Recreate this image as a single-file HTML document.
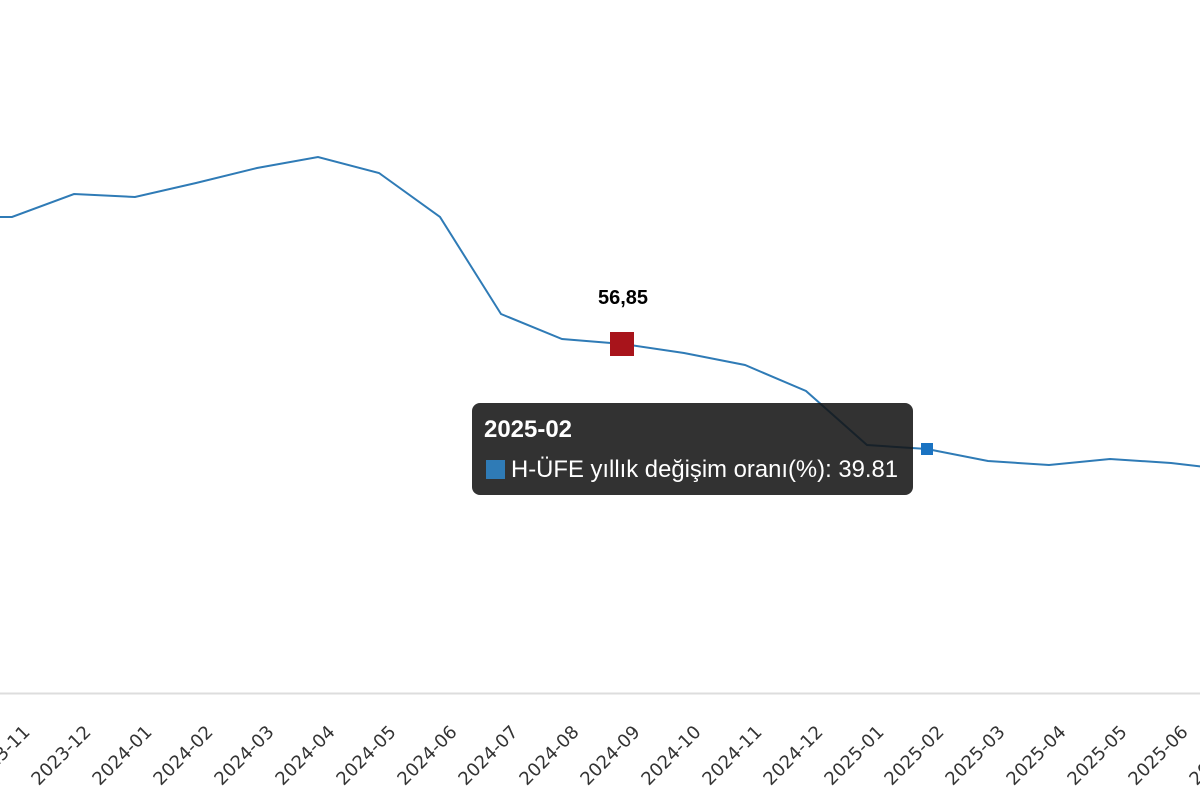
<!DOCTYPE html>
<html><head><meta charset="utf-8"><style>
html,body{margin:0;padding:0;background:#fff;width:1200px;height:800px;overflow:hidden}
svg{display:block}
</style></head><body>
<svg width="1200" height="800" xmlns="http://www.w3.org/2000/svg">
<line x1="0" y1="693.5" x2="1200" y2="693.5" stroke="#dddddd" stroke-width="2"/>
<polyline fill="none" stroke="#2f7bb6" stroke-width="2" points="-49,217 12,217 74,194 135,197 196,183 257,168 318,157 379,173 440,217 501,314 562,339 623,344 684,353 745,365 806,391 867,445 927,449 988,461 1049,465 1110,459 1171,463 1232,470"/>
<rect x="610" y="332" width="24" height="24" fill="#a8141b"/>
<text x="623" y="304" text-anchor="middle" font-family="Liberation Sans, sans-serif" font-weight="bold" font-size="20" fill="#000">56,85</text>
<rect x="921" y="443" width="12" height="12" fill="#1a73c2"/>
<g font-family="DejaVu Sans, sans-serif" font-size="18" fill="#333" text-anchor="end">
<text transform="translate(31,733) rotate(-45)">2023-11</text>
<text transform="translate(92,733) rotate(-45)">2023-12</text>
<text transform="translate(153,733) rotate(-45)">2024-01</text>
<text transform="translate(214,733) rotate(-45)">2024-02</text>
<text transform="translate(275,733) rotate(-45)">2024-03</text>
<text transform="translate(336,733) rotate(-45)">2024-04</text>
<text transform="translate(397,733) rotate(-45)">2024-05</text>
<text transform="translate(458,733) rotate(-45)">2024-06</text>
<text transform="translate(519,733) rotate(-45)">2024-07</text>
<text transform="translate(580,733) rotate(-45)">2024-08</text>
<text transform="translate(641,733) rotate(-45)">2024-09</text>
<text transform="translate(702,733) rotate(-45)">2024-10</text>
<text transform="translate(763,733) rotate(-45)">2024-11</text>
<text transform="translate(824,733) rotate(-45)">2024-12</text>
<text transform="translate(885,733) rotate(-45)">2025-01</text>
<text transform="translate(945,733) rotate(-45)">2025-02</text>
<text transform="translate(1006,733) rotate(-45)">2025-03</text>
<text transform="translate(1067,733) rotate(-45)">2025-04</text>
<text transform="translate(1128,733) rotate(-45)">2025-05</text>
<text transform="translate(1189,733) rotate(-45)">2025-06</text>
<text transform="translate(1250,733) rotate(-45)">2025-07</text>
</g>
<rect x="472" y="403" width="441" height="92" rx="8" fill="rgba(20,20,20,0.87)"/>
<text x="484" y="437" font-family="Liberation Sans, sans-serif" font-weight="bold" font-size="24" textLength="88" lengthAdjust="spacingAndGlyphs" fill="#fff">2025-02</text>
<rect x="486" y="460" width="19" height="19" fill="#2f7bb6"/>
<text x="511" y="477" font-family="Liberation Sans, sans-serif" font-size="24" textLength="387" lengthAdjust="spacingAndGlyphs" fill="#fff">H-ÜFE yıllık değişim oranı(%): 39.81</text>
</svg>
</body></html>
